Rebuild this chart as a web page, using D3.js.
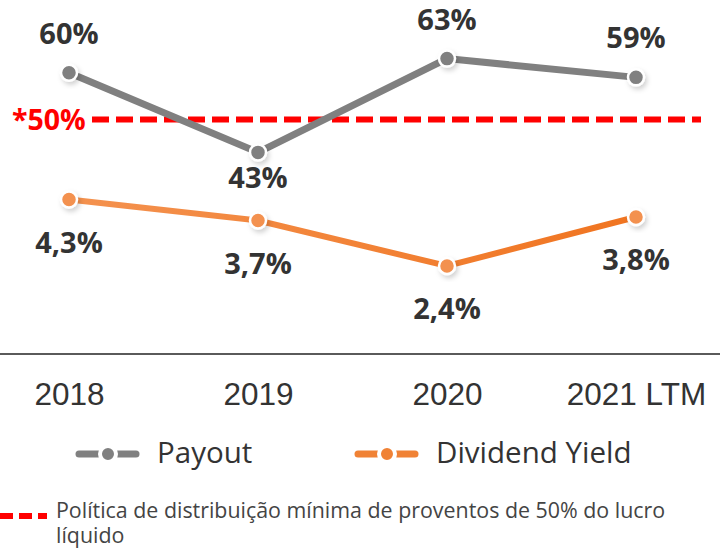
<!DOCTYPE html>
<html lang="pt">
<head>
<meta charset="utf-8">
<title>Payout e Dividend Yield</title>
<script src="https://d3js.org/d3.v7.min.js"></script>
<style>
  body { margin: 0; background: #fff; }
  svg { display: block; }
</style>
</head>
<body>
<div id="canvas"></div>
<script>
const years = ["2018", "2019", "2020", "2021 LTM"]
const payout = [60, 43, 63, 59]
const dividendYield = [4.3, 3.7, 2.4, 3.8]
const payoutSide = ["above", "below", "above", "above"]
const policy = 50
const seriesNames = ["Payout", "Dividend Yield"]
const footnote = ["Política de distribuição mínima de proventos de 50% do lucro", "líquido"]

const width = 720
const height = 549
const baseY = 354

const svg = d3.select("#canvas").append("svg")
  .attr("width", width)
  .attr("height", height)

const defs = svg.append("defs")
const shadow = defs.append("filter").attr("id", "shadow")
  .attr("x", "-50%").attr("y", "-50%").attr("width", "200%").attr("height", "200%")
shadow.append("feDropShadow")
  .attr("dx", 2).attr("dy", 3).attr("stdDeviation", 2.5)
  .attr("flood-color", "#000").attr("flood-opacity", 0.18)

const grad = defs.append("linearGradient").attr("id", "orangeGrad")
  .attr("gradientUnits", "userSpaceOnUse")
  .attr("x1", 69).attr("x2", 636).attr("y1", 0).attr("y2", 0)
grad.append("stop").attr("offset", "0%").attr("stop-color", "#f4924f")
grad.append("stop").attr("offset", "100%").attr("stop-color", "#f07420")

const x = d3.scalePoint().domain(years).range([69, 636])
const yPay = d3.scaleLinear().domain([0, 75.5]).range([baseY, 0])
const yDy = d3.scaleLinear().domain([0, 10]).range([350, 0])

const labelFont = "'Open Sans', 'Noto Sans', sans-serif"

// baseline
svg.append("line")
  .attr("x1", 0).attr("x2", width)
  .attr("y1", baseY).attr("y2", baseY)
  .attr("stroke", "#5a5a5a").attr("stroke-width", 2)

// category axis
const axis = svg.append("g")
  .attr("transform", `translate(0,${baseY})`)
  .call(d3.axisBottom(x).tickSize(0).tickPadding(0))
axis.select(".domain").remove()
axis.selectAll("text")
  .attr("dy", null)
  .attr("y", 51)
  .style("font-family", "'Liberation Sans', Arial, sans-serif")
  .style("font-size", "31.5px")
  .style("fill", "#333")

// policy line
svg.append("line")
  .attr("x1", 92).attr("x2", 701)
  .attr("y1", yPay(policy)).attr("y2", yPay(policy))
  .attr("stroke", "#ff0000").attr("stroke-width", 6)
  .attr("stroke-dasharray", "17 7")
svg.append("text")
  .attr("x", 12).attr("y", yPay(policy) + 10)
  .style("font-family", labelFont).style("font-weight", 700)
  .style("font-size", "28.5px").style("fill", "#ff0000")
  .text("*" + policy + "%")

// payout line
const payData = years.map((d, i) => ({ year: d, v: payout[i], side: payoutSide[i] }))
svg.append("path")
  .datum(payData)
  .attr("fill", "none")
  .attr("stroke", "#808080").attr("stroke-width", 7)
  .attr("d", d3.line().x(d => x(d.year)).y(d => yPay(d.v)))
svg.append("g").selectAll("circle")
  .data(payData).join("circle")
  .attr("cx", d => x(d.year)).attr("cy", d => yPay(d.v))
  .attr("r", 8)
  .attr("fill", "#808080").attr("stroke", "#fff").attr("stroke-width", 2.5)
  .attr("filter", "url(#shadow)")
svg.append("g").selectAll("text")
  .data(payData).join("text")
  .attr("x", d => x(d.year))
  .attr("y", d => yPay(d.v) + (d.side === "above" ? -29 : 36))
  .attr("text-anchor", "middle")
  .style("font-family", labelFont).style("font-weight", 700)
  .style("font-size", "29px").style("fill", "#333")
  .text(d => d.v + "%")

// dividend yield line
const dyData = years.map((d, i) => ({ year: d, v: dividendYield[i] }))
svg.append("path")
  .datum(dyData)
  .attr("fill", "none")
  .attr("stroke", "url(#orangeGrad)").attr("stroke-width", 6)
  .attr("d", d3.line().x(d => x(d.year)).y(d => yDy(d.v)))
svg.append("g").selectAll("circle")
  .data(dyData).join("circle")
  .attr("cx", d => x(d.year)).attr("cy", d => yDy(d.v))
  .attr("r", 8)
  .attr("fill", "#f39150").attr("stroke", "#fff").attr("stroke-width", 2.5)
  .attr("filter", "url(#shadow)")
svg.append("g").selectAll("text")
  .data(dyData).join("text")
  .attr("x", d => x(d.year))
  .attr("y", d => yDy(d.v) + 53)
  .attr("text-anchor", "middle")
  .style("font-family", labelFont).style("font-weight", 700)
  .style("font-size", "29px").style("fill", "#333")
  .text(d => d3.format(".1f")(d.v).replace(".", ",") + "%")

// legend
const legend = [
  { name: seriesNames[0], color: "#808080", x: 76 },
  { name: seriesNames[1], color: "#f08235", x: 355 }
]
const lg = svg.append("g").selectAll("g")
  .data(legend).join("g")
  .attr("transform", d => `translate(${d.x},454)`)
lg.append("line")
  .attr("x1", 3).attr("x2", 60)
  .attr("stroke", d => d.color).attr("stroke-width", 7)
  .attr("stroke-linecap", "round")
lg.append("circle")
  .attr("cx", 32).attr("r", 8)
  .attr("fill", d => d.color).attr("stroke", "#fff").attr("stroke-width", 4)
lg.append("text")
  .attr("x", 81).attr("y", 9)
  .style("font-family", labelFont)
  .style("font-size", "29.5px").style("fill", "#333")
  .text(d => d.name)

// footnote
svg.append("line")
  .attr("x1", 0).attr("x2", 47)
  .attr("y1", 516).attr("y2", 516)
  .attr("stroke", "#ff0000").attr("stroke-width", 6)
  .attr("stroke-dasharray", "13 6")
svg.append("text")
  .attr("x", 56).attr("y", 518)
  .style("font-family", labelFont)
  .style("font-size", "21.4px").style("fill", "#444")
  .selectAll("tspan").data(footnote).join("tspan")
  .attr("x", 56)
  .attr("dy", (d, i) => i === 0 ? 0 : 25)
  .text(d => d)
</script>
</body>
</html>
